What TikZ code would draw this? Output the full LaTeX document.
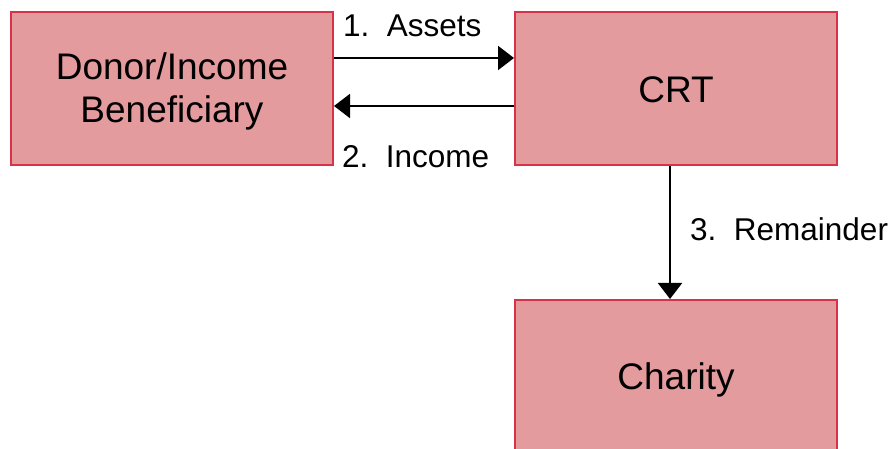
\documentclass[tikz,border=0pt]{standalone}
\usepackage{fontspec}
\setmainfont{Liberation Sans}
\usetikzlibrary{arrows.meta}
\definecolor{boxfill}{HTML}{E39B9E}
\definecolor{boxline}{HTML}{D63348}
\tikzset{
  party/.style={draw=boxline, fill=boxfill, line width=2pt, minimum width=322pt, minimum height=153pt, inner sep=0pt},
  ptext/.style={align=center, inner sep=0pt, font=\fontsize{37}{42.5}\selectfont},
  flow/.style={line width=2pt, -{Triangle[length=16pt,width=24pt]}},
  lbl/.style={anchor=base west, inner sep=0pt, font=\fontsize{31.5}{36}\selectfont}
}
\begin{document}
\begin{tikzpicture}[x=1pt,y=1pt]
\useasboundingbox (0,0) rectangle (893,449);
\clip (0,0) rectangle (893,449);
\node[party, label={[ptext,yshift=-3pt]center:Donor/Income\\Beneficiary}] (donor) at (172,360.5) {};
\node[party, label={[ptext,yshift=-1.5pt]center:CRT}] (crt) at (676,360.5) {};
\node[party, label={[ptext,yshift=-3pt]center:Charity}] (charity) at (676,72.5) {};
\draw[flow] ([yshift=30.5pt]donor.east) -- ([yshift=30.5pt]crt.west);
\draw[flow] ([yshift=-17.5pt]crt.west) -- ([yshift=-17.5pt]donor.east);
\draw[flow] ([xshift=-6pt]crt.south) -- ([xshift=-6pt]charity.north);
\node[lbl] (l1) at (343,412) {1.\ \ Assets};
\node[lbl] (l2) at (342,281) {2.\ \ Income};
\node[lbl] (l3) at (690,208) {3.\ \ Remainder};
\end{tikzpicture}
\end{document}
